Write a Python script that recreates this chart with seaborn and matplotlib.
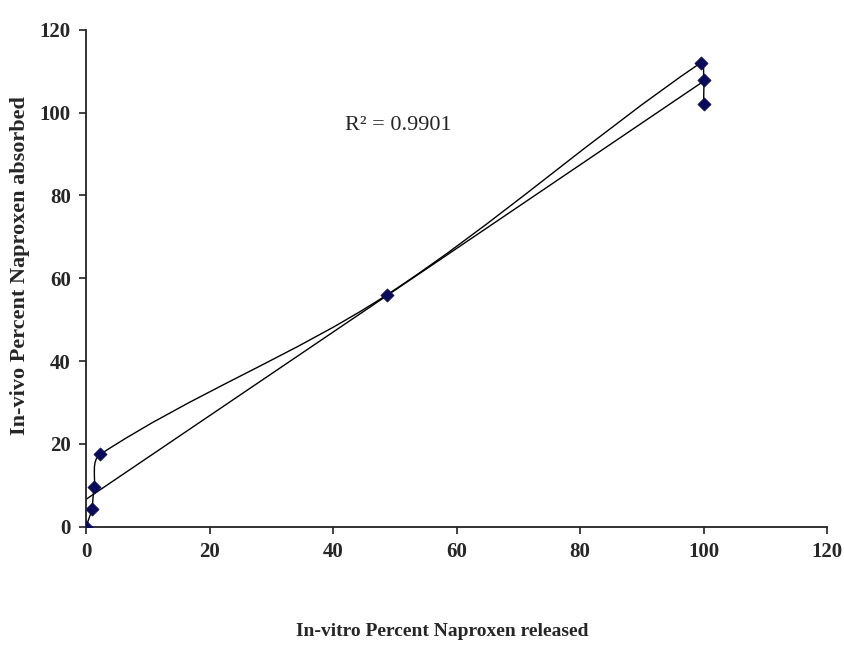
import matplotlib.pyplot as plt
import numpy as np
import pandas as pd
import seaborn as sns
from matplotlib.path import Path
from matplotlib.patches import PathPatch

# values
in_vitro = [0, 0.9, 1.3, 2.3, 48.7, 99.5, 100, 100]
in_vivo = [0, 4.2, 9.5, 17.5, 56, 112, 108, 102]
r_squared = "0.9901"
x_ticks = [0, 20, 40, 60, 80, 100, 120]
y_ticks = [0, 20, 40, 60, 80, 100, 120]
x_label = "In-vitro Percent Naproxen released"
y_label = "In-vivo Percent Naproxen absorbed"


def smooth_path(xs, ys, sx, sy):
    # smoothed line: cubic Bezier pieces, tangents from neighbours,
    # handle length = 1/3 of the chord (worked out in screen-like units)
    pts = np.column_stack([np.asarray(xs) * sx, np.asarray(ys) * sy]).astype(float)
    n = len(pts)
    tang = []
    for i in range(n):
        a = pts[max(i - 1, 0)]
        b = pts[min(i + 1, n - 1)]
        d = b - a
        tang.append(d / np.hypot(*d))
    verts = [pts[0]]
    codes = [Path.MOVETO]
    for i in range(n - 1):
        chord = np.hypot(*(pts[i + 1] - pts[i]))
        verts += [pts[i] + tang[i] * chord / 3, pts[i + 1] - tang[i + 1] * chord / 3, pts[i + 1]]
        codes += [Path.CURVE4] * 3
    verts = np.array(verts) / [sx, sy]
    return Path(verts, codes)


sns.set_style("ticks")
plt.rcParams["font.family"] = ["Liberation Serif", "DejaVu Serif"]

df = pd.DataFrame({"in_vitro": in_vitro, "in_vivo": in_vivo})

fig, ax = plt.subplots(figsize=(8.44, 6.48), dpi=100)
fig.subplots_adjust(left=0.102, right=0.980, bottom=0.187, top=0.954)

# smoothed connecting line (pixel scale of the axes: 741 px / 120, 497 px / 120)
ax.add_patch(PathPatch(smooth_path(in_vitro, in_vivo, 741 / 120, 497 / 120),
                       facecolor="none", edgecolor="black", linewidth=1.0, zorder=2))

# linear trendline
sns.regplot(data=df, x="in_vitro", y="in_vivo", scatter=False, ci=None, ax=ax,
            line_kws={"color": "black", "linewidth": 1.0, "zorder": 2})

sns.scatterplot(data=df, x="in_vitro", y="in_vivo", marker="D", s=45, color="#0a0a5a",
                edgecolor="#0a0a5a", linewidth=0.5, ax=ax, zorder=3)

ax.text(50.5, 97, "R² = " + r_squared, fontsize=16, ha="center", va="center")

ax.set_xlim(0, 120)
ax.set_ylim(0, 120)
ax.set_xticks(x_ticks)
ax.set_yticks(y_ticks)
ax.tick_params(axis="both", labelsize=15, length=5, width=1.2, color="#222222", pad=6)
for lab in ax.get_xticklabels() + ax.get_yticklabels():
    lab.set_fontweight("bold")

sns.despine(ax=ax)
for side in ["left", "bottom"]:
    ax.spines[side].set_linewidth(1.3)
    ax.spines[side].set_color("#222222")

ax.set_xlabel("")
ax.set_ylabel("")
fig.text(0.524, 0.026, x_label, fontsize=14, fontweight="bold", ha="center", va="center")
fig.text(0.024, 0.59, y_label, fontsize=16, fontweight="bold", rotation=90, ha="center", va="center")

plt.savefig("out.png", dpi=100, facecolor="white")
plt.close()
